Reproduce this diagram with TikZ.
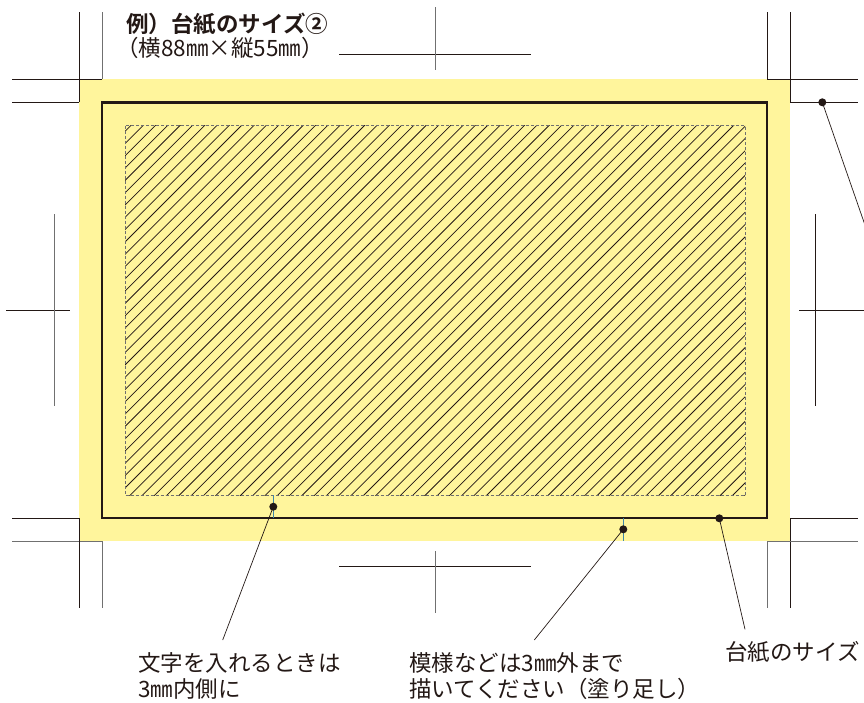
\documentclass[tikz,border=0pt]{standalone}
\usepackage{fontspec}
\newfontfamily\jpfont{Noto Sans CJK JP}[BoldFont={* Bold}]
\definecolor{inkc}{HTML}{231815}
\definecolor{grayc}{HTML}{707070}
\definecolor{paperyellow}{HTML}{FFF59C}
\definecolor{tickblue}{HTML}{3F86A8}
\begin{document}
\begin{tikzpicture}[x=1pt, y=-1pt, every node/.style={inner sep=0pt},
		cutmark/.style={line width=0.9pt, draw=inkc},
		cutgray/.style={line width=0.9pt, draw=grayc},
		trimline/.style={line width=2.3pt, draw=inkc},
		safeline/.style={line width=0.9pt, draw=grayc, dash pattern=on 3pt off 2pt},
		hatchline/.style={line width=0.75pt, draw=inkc},
		bluetick/.style={line width=0.8pt, draw=tickblue},
		dot/.style={circle, fill=inkc, minimum size=8pt},
		leader/.style={line width=0.7pt, draw=inkc},
		notetext/.style={anchor=base west, align=left, text=inkc, font=\jpfont\fontsize{22.5}{26.5}\selectfont}]
			
			\useasboundingbox (0,0) rectangle (864,702);
			
			% Bleed and safe area
			\fill[paperyellow] (79,79) rectangle (790,541);
			\begin{scope}
				\clip (125,125.5) rectangle (745,495);
				\foreach \c in {244,256.3,...,1250}
					\draw[hatchline] (\c-120,120) -- (\c-500,500);
			\end{scope}
			\draw[safeline] (125,125.5) rectangle (745,495);
			\draw[trimline] (102,102.5) rectangle (767,518);
			\draw[bluetick] (273.3,495) -- (273.3,518);
			\draw[bluetick] (623.3,518) -- (623.3,541);
			
			% Crop marks
			\draw[cutmark] (79,12) -- (79,102);
			\draw[cutgray] (102,12) -- (102,79);
			\draw[cutmark] (12,79) -- (102,79);
			\draw[cutmark] (12,102) -- (79,102);
			\draw[cutmark] (767,12) -- (767,79);
			\draw[cutmark] (790,12) -- (790,102);
			\draw[cutmark] (767,79) -- (858,79);
			\draw[cutmark] (790,102) -- (858,102);
			\draw[cutmark] (12,518) -- (79,518);
			\draw[cutgray] (12,541) -- (102,541);
			\draw[cutmark] (79,518) -- (79,608);
			\draw[cutgray] (102,541) -- (102,608);
			\draw[cutgray] (767,541) -- (767,608);
			\draw[cutmark] (790,518) -- (790,608);
			\draw[cutmark] (790,518) -- (858,518);
			\draw[cutgray] (767,541) -- (858,541);
			\draw[cutmark] (339,54) -- (531,54);
			\draw[cutgray] (435,7) -- (435,70);
			\draw[cutmark] (339,566) -- (531,566);
			\draw[cutgray] (435,551) -- (435,613);
			\draw[cutmark] (6,310) -- (70,310);
			\draw[cutgray] (54,214) -- (54,406);
			\draw[cutmark] (799,310) -- (866,310);
			\draw[cutmark] (815.7,214) -- (815.7,406);
			
			% Nodes
			\node[notetext, font=\jpfont\bfseries\fontsize{22.5}{27}\selectfont] (title) at (126,32) {例）台紙のサイズ②};
			\node[notetext] (size) at (116,56) {（横88㎜×縦55㎜）};
			\node[notetext] (tSafe) at (138,697.5) {文字を入れるときは\\3㎜内側に};
			\node[notetext] (tBleed) at (409,697.5) {模様などは3㎜外まで\\描いてください（塗り足し）};
			\node[notetext] (tTrim) at (725,660) {台紙のサイズ};
			
			\node[dot] (dSafe) at (273.3,506.7) {};
			\node[dot] (dBleed) at (623.3,529.3) {};
			\node[dot] (dTrim) at (719.3,518.3) {};
			\node[dot] (dCrop) at (822.3,102.3) {};
			
			\coordinate (eSafe) at (222.7,640);
			\coordinate (eBleed) at (534.3,640);
			\coordinate (eTrim) at (745,629.3);
			\coordinate (eCrop) at (866,228);
			
			% Edges
			\draw[leader] (dSafe.center) -- (eSafe);
			\draw[leader] (dBleed.center) -- (eBleed);
			\draw[leader] (dTrim.center) -- (eTrim);
			\draw[leader] (dCrop.center) -- (eCrop);
			
		\end{tikzpicture}
\end{document}
